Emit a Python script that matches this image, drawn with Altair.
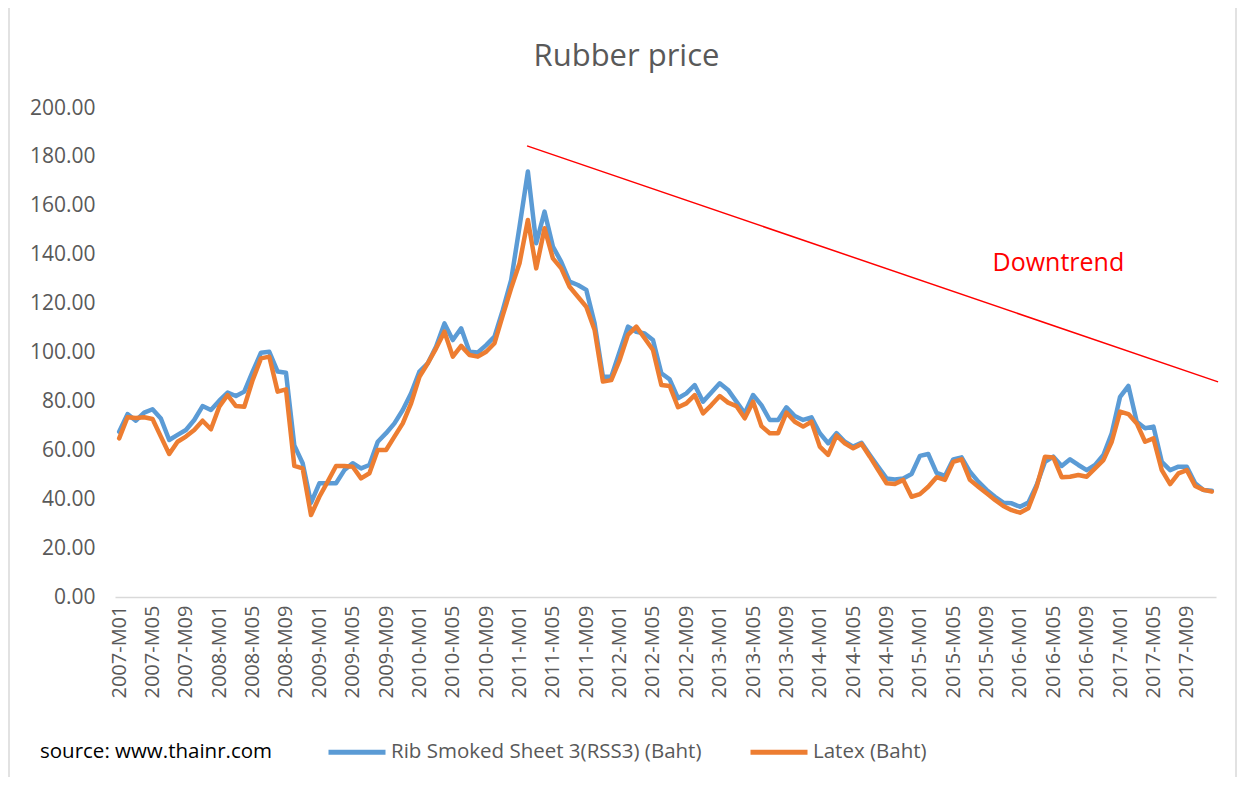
import altair as alt
import pandas as pd

months = [f"{y}-M{m:02d}" for y in range(2007, 2018) for m in range(1, 13)]

rss3 = [
    67.6, 74.8, 72.1, 75.4, 76.8, 73.0, 64.2, 66.3, 68.3, 72.4, 78.1, 76.5,
    80.3, 83.6, 82.2, 84.0, 92.2, 99.9, 100.3, 92.2, 91.7, 62.0, 54.7, 38.5,
    46.5, 46.5, 46.5, 51.9, 54.7, 52.6, 54.0, 63.5, 67.0, 71.0, 76.5, 83.3,
    92.2, 95.6, 102.4, 111.9, 105.1, 109.9, 100.3, 100.0, 103.0, 106.5, 117.4, 129.7,
    151.5, 174.0, 144.7, 157.6, 143.3, 137.1, 129.0, 127.6, 125.6, 111.9, 90.1, 90.1,
    100.3, 110.6, 108.5, 107.8, 105.1, 91.5, 89.0, 81.3, 83.3, 86.7, 79.9, 83.6,
    87.4, 84.7, 79.9, 75.1, 82.6, 78.5, 72.4, 72.4, 77.6, 74.0, 72.4, 73.5,
    67.0, 62.9, 67.0, 63.5, 61.5, 63.1, 58.1, 53.3, 48.5, 48.1, 48.5, 50.3,
    57.7, 58.5, 50.8, 49.5, 56.3, 57.1, 51.2, 47.2, 43.8, 41.0, 38.6, 38.3,
    36.9, 38.6, 45.8, 55.3, 57.4, 53.6, 56.3, 54.0, 51.9, 54.0, 58.1, 67.0,
    81.9, 86.3, 71.7, 69.0, 69.7, 55.3, 51.9, 53.3, 53.3, 46.5, 43.8, 43.5,
]

latex = [
    64.9, 73.5, 73.2, 73.5, 72.8, 65.6, 58.5, 63.5, 65.6, 68.3, 72.1, 68.6,
    77.8, 82.6, 78.1, 77.8, 88.7, 97.6, 98.3, 84.0, 84.9, 53.6, 52.6, 33.5,
    41.0, 47.2, 53.6, 53.6, 53.3, 48.5, 50.6, 60.1, 60.1, 65.6, 71.0, 79.2,
    90.1, 95.6, 101.7, 108.5, 98.3, 102.7, 99.0, 98.3, 100.3, 103.8, 115.3, 126.3,
    136.5, 154.2, 134.4, 150.8, 138.5, 134.4, 126.9, 122.8, 118.7, 109.2, 88.1, 88.7,
    96.9, 107.2, 110.6, 105.8, 101.0, 86.7, 86.3, 77.6, 79.2, 82.6, 75.1, 78.5,
    82.2, 79.5, 78.1, 73.1, 79.9, 69.9, 67.0, 67.0, 75.4, 71.7, 69.7, 71.7,
    61.5, 58.1, 66.0, 62.9, 60.8, 62.6, 57.4, 51.9, 46.5, 46.2, 47.9, 41.0,
    42.1, 45.1, 49.0, 47.9, 55.3, 56.3, 47.9, 45.1, 42.4, 39.7, 37.2, 35.5,
    34.5, 36.3, 45.1, 57.4, 57.1, 49.0, 49.2, 49.9, 49.2, 52.6, 56.0, 63.5,
    75.8, 74.8, 71.0, 63.5, 64.9, 51.9, 46.2, 50.6, 51.9, 45.4, 43.8, 43.1,
]

series_names = ["Rib Smoked Sheet 3(RSS3) (Baht)", "Latex (Baht)"]
series_colors = ["#5B9BD5", "#ED7D31"]

trend_x = [48.9, 131.75]
trend_y = [184.5, 88.0]
trend_label = "Downtrend"
trend_label_x = [112.6]
trend_label_y = [136.6]

FONT = "Open Sans"
GREY = "#595959"

rows = []
for name, vals in zip(series_names, [rss3, latex]):
    for i, v in enumerate(vals):
        rows.append({"idx": i, "month": months[i], "value": v, "series": name})
df = pd.DataFrame(rows)

label_expr = "[" + ",".join(f"'{m}'" for m in months) + "][datum.value]"

x_scale = alt.Scale(domain=[-0.5, len(months) - 0.5], nice=False, zero=False)
y_scale = alt.Scale(domain=[0, 200], nice=False)

x_axis = alt.Axis(values=list(range(0, len(months), 4)), labelExpr=label_expr,
                  labelAngle=270, labelFlush=False, labelOverlap=False, labelBound=False,
                  labelFont=FONT, labelFontSize=20, labelColor=GREY, labelPadding=8,
                  ticks=False, grid=False, domainColor="#D9D9D9", domainWidth=1.5,
                  title=None)
y_axis = alt.Axis(values=list(range(0, 201, 20)), format=".2f", labelFont=FONT,
                  labelFontSize=21, labelColor=GREY, labelPadding=20, ticks=False,
                  grid=False, domain=False, title=None)

lines = alt.Chart(df).mark_line(strokeWidth=4.5, strokeJoin="round", strokeCap="round").encode(
    x=alt.X("idx:Q", scale=x_scale, axis=x_axis),
    y=alt.Y("value:Q", scale=y_scale, axis=y_axis),
    color=alt.Color("series:N", sort=series_names,
                    scale=alt.Scale(domain=series_names, range=series_colors),
                    legend=alt.Legend(orient="none", legendX=-75, legendY=613, direction="horizontal",
                                      title="source: www.thainr.com", titleOrient="left",
                                      titleAnchor="middle",
                                      titleFont=FONT, titleFontSize=20.5, titleFontWeight="normal",
                                      titleColor="#000000", titlePadding=53, titleBaseline="top",
                                      titleLimit=600, labelLimit=600,
                                      symbolType="stroke", symbolSize=3249, symbolStrokeWidth=5,
                                      labelFont=FONT, labelFontSize=20.5, labelColor=GREY,
                                      labelOffset=3, columnPadding=38, symbolOffset=0)),
    order=alt.Order("series:N", sort="descending"),
    detail="series:N",
)

trend_df = pd.DataFrame({"x": trend_x, "y": trend_y})
trend = alt.Chart(trend_df).mark_line(color="#FF0000", strokeWidth=1.5).encode(
    x=alt.X("x:Q", scale=x_scale, axis=x_axis), y=alt.Y("y:Q", scale=y_scale, axis=y_axis)
)

label_df = pd.DataFrame({"x": trend_label_x, "y": trend_label_y, "t": [trend_label]})
trend_text = alt.Chart(label_df).mark_text(font=FONT, fontSize=25, color="#FF0000").encode(
    x=alt.X("x:Q", scale=x_scale, axis=x_axis), y=alt.Y("y:Q", scale=y_scale, axis=y_axis),
    text="t:N"
)

border_left = alt.Chart(pd.DataFrame({"side": ["left"]})).mark_rule(
    color="#D9D9D9", strokeWidth=1.5
).encode(x=alt.value(-106), y=alt.value(-110), y2=alt.value(680))
border_right = alt.Chart(pd.DataFrame({"side": ["right"]})).mark_rule(
    color="#D9D9D9", strokeWidth=1.5
).encode(x=alt.value(1121), y=alt.value(-110), y2=alt.value(680))

chart = alt.layer(lines, trend, trend_text, border_left, border_right).properties(
    width=1101, height=489,
    title=alt.TitleParams("Rubber price", font=FONT, fontSize=31, fontWeight="normal",
                          color=GREY, anchor="middle", dx=-39, offset=-76, frame="group"),
    autosize=alt.AutoSizeParams(type="none"),
    padding={"left": 107, "top": 100, "right": 22, "bottom": 180},
).configure_view(stroke=None).configure_axisX(labelOverlap=False)

chart.save("out.html", embed_options={"renderer": "svg", "actions": False})
